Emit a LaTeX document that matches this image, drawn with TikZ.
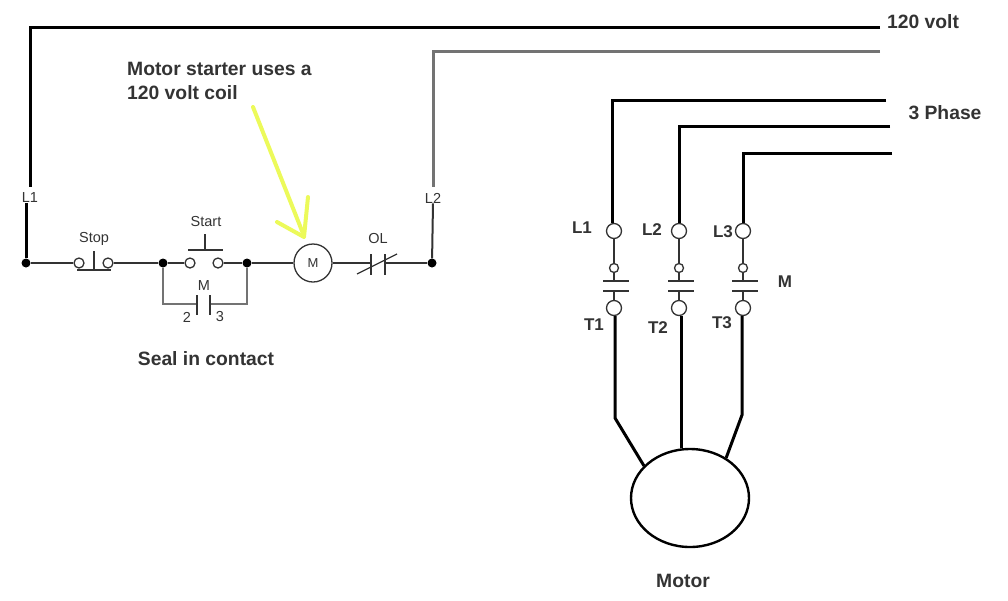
\documentclass[tikz,border=0pt]{standalone}
\usepackage{fontspec}
\setmainfont{Liberation Sans}
\usepackage{tikz}
\usetikzlibrary{shapes.geometric}
\definecolor{wiregray}{gray}{0.45}
\definecolor{marker}{RGB}{236,250,90}
\definecolor{ink}{gray}{0.2}
\tikzset{
  term/.style={circle,draw=ink,fill=white,line width=1.3pt,inner sep=0pt,minimum size=#1},
  term/.default=10pt,
  dot/.style={circle,fill=black,inner sep=0pt,minimum size=9pt},
  thin wire/.style={draw=ink,line width=1.3pt},
  heavy wire/.style={draw=black,line width=3pt},
  small label/.style={text=ink,font=\fontsize{14.5}{16}\selectfont,inner sep=0pt},
  tag label/.style={text=ink,font=\bfseries\fontsize{17}{20}\selectfont,inner sep=0pt},
  big label/.style={text=ink,font=\bfseries\fontsize{19.3}{24}\selectfont,inner sep=0pt},
}
\begin{document}
\begin{tikzpicture}[x=1pt,y=-1pt]
  \useasboundingbox
    (0,0)
    rectangle
    (1008,600);
  \coordinate (hotend) at (880,27);
  \coordinate (hotcorner) at (30,27);
  \coordinate (hotdrop) at (30,187);
  \coordinate (neutralend) at (880,51);
  \coordinate (neutralcorner) at (433,51);
  \coordinate (neutraldrop) at (433,187);
  \node[small label] (lineone) at (30,198) {L1};
  \node[small label] (linetwo) at (433,198) {L2};
  \node[dot] (railleft) at (26,263) {};
  \node[dot] (railright) at (432,263) {};
  \node[term] (stopa) at (79,263) {};
  \node[term] (stopb) at (108,263) {};
  \node[small label] (stoplabel) at (94,239) {Stop};
  \coordinate (stoptop) at (94,251);
  \coordinate (stopfoot) at (94,270);
  \coordinate (stopbarl) at (77,270);
  \coordinate (stopbarr) at (111,270);
  \node[dot] (sealleft) at (163,263) {};
  \node[dot] (sealright) at (247,263) {};
  \node[term] (starta) at (190,263) {};
  \node[term] (startb) at (218,263) {};
  \node[small label] (startlabel) at (206,222) {Start};
  \coordinate (starttop) at (205,234);
  \coordinate (startfoot) at (205,250);
  \coordinate (startbarl) at (188,250);
  \coordinate (startbarr) at (223,250);
  \coordinate (sealplatea) at (197,304);
  \coordinate (sealplateb) at (210,304);
  \node[small label] (sealm) at (204,286) {M};
  \node[small label] (sealtwo) at (187,317) {2};
  \node[small label] (sealthree) at (220,317) {3};
  \node[big label] (seallabel) at (206,359) {Seal in contact};
  \node[term=38pt,font=\fontsize{13}{15}\selectfont,text=ink] (coil) at (313,263) {M};
  \node[small label] (ollabel) at (378,239) {OL};
  \coordinate (ola) at (371,263);
  \coordinate (olb) at (385,263);
  \draw[heavy wire]
    (hotend)
    --
    (hotcorner)
    --
    (hotdrop);
  \draw[heavy wire]
    (lineone.south -| railleft)
    --
    (railleft);
  \draw[draw=wiregray,line width=3pt]
    (neutralend)
    --
    (neutralcorner)
    --
    (neutraldrop);
  \draw[line width=2pt,draw=ink]
    (linetwo.south)
    --
    (railright);
  \draw[thin wire]
    (railleft)
    --
    (stopa);
  \draw[thin wire]
    (stopb)
    --
    (sealleft)
    --
    (starta);
  \draw[thin wire]
    (startb)
    --
    (sealright)
    --
    (coil);
  \draw[thin wire]
    (stoptop)
    --
    (stopfoot);
  \draw[line width=1.8pt,draw=ink]
    (stopbarl)
    --
    (stopbarr);
  \draw[thin wire]
    (starttop)
    --
    (startfoot);
  \draw[thin wire]
    (startbarl)
    --
    (startbarr);
  \draw[thin wire,draw=wiregray]
    (sealleft)
    |-
    (sealplatea);
  \draw[thin wire,draw=wiregray]
    (sealright)
    |-
    (sealplateb);
  \draw[thin wire]
    (sealplatea) +(0,-9)
    --
    +(0,11);
  \draw[thin wire]
    (sealplateb) +(0,-9)
    --
    +(0,11);
  \draw[thin wire]
    (coil)
    --
    (ola);
  \draw[thin wire]
    (olb)
    --
    (railright);
  \draw[thin wire]
    (ola) +(0,-9)
    --
    +(0,12);
  \draw[thin wire]
    (olb) +(0,-9)
    --
    +(0,12);
  \draw[thin wire]
    (ola) +(-14,11)
    --
    +(26,-9);
  \draw[draw=marker,line width=4pt,line cap=round]
    (253,107)
    --
    (304,236);
  \draw[draw=marker,line width=4pt,line cap=round,line join=round]
    (277,222)
    --
    (304,237)
    --
    (308,197);
  \node[big label,anchor=north west,align=left] (note) at (127,62)
    {Motor starter uses a\\120 volt coil};
  \node[big label] (hotlabel) at (923,22) {120 volt};
  \node[big label] (phaselabel) at (945,113) {3 Phase};
  \coordinate (phaseoneend) at (886,100);
  \coordinate (phaseonecorner) at (612,100);
  \coordinate (phasetwoend) at (890,126);
  \coordinate (phasetwocorner) at (679,126);
  \coordinate (phasethreeend) at (892,153);
  \coordinate (phasethreecorner) at (743,153);
  \node[term=15pt] (lineina) at (614,231) {};
  \node[term=15pt] (lineinb) at (679,231) {};
  \node[term=15pt] (lineinc) at (743,231) {};
  \node[term=9pt] (linksa) at (614,268) {};
  \node[term=9pt] (linksb) at (679,268) {};
  \node[term=9pt] (linksc) at (743,268) {};
  \node[term=15pt] (loadouta) at (614,308) {};
  \node[term=15pt] (loadoutb) at (679,308) {};
  \node[term=15pt] (loadoutc) at (743,308) {};
  \node[draw=black,line width=2.4pt,ellipse,minimum width=118pt,minimum height=98pt,inner sep=0pt] (motor) at (690,498) {};
  \foreach \col in {a,b,c} {
    \draw[thin wire]
      (linein\col.south)
      --
      (links\col.north);
  }
  \foreach \col/\xpos in {a/614,b/679,c/743} {
    \draw[line width=1.6pt,draw=ink]
      (\xpos-11,281)
      --
      (\xpos+15,281);
    \draw[line width=2pt,draw=ink]
      (\xpos-11,291)
      --
      (\xpos+15,291);
    \draw[thin wire]
      (links\col.south)
      --
      (\xpos,281);
    \draw[thin wire]
      (\xpos,291)
      --
      (loadout\col.north);
  }
  \node[tag label] (tagla) at (582,228) {L1};
  \node[tag label] (taglb) at (652,230) {L2};
  \node[tag label] (taglc) at (723,232) {L3};
  \node[tag label] (tagm) at (785,282) {M};
  \node[tag label] (tagta) at (594,325) {T1};
  \node[tag label] (tagtb) at (658,328) {T2};
  \node[tag label] (tagtc) at (722,323) {T3};
  \node[big label] (motorlabel) at (683,581) {Motor};
  \coordinate (tapa) at (615,316);
  \coordinate (tapb) at (681,316);
  \coordinate (tapc) at (742,316);
  \coordinate (benda) at (615,418);
  \coordinate (bendc) at (742,415);
  \draw[heavy wire]
    (phaseoneend)
    --
    (phaseonecorner)
    --
    (lineina.north -| phaseonecorner);
  \draw[heavy wire]
    (phasetwoend)
    --
    (phasetwocorner)
    --
    (lineinb.north);
  \draw[heavy wire]
    (phasethreeend)
    --
    (phasethreecorner)
    --
    (lineinc.north);
  \draw[heavy wire]
    (tapa)
    --
    (benda)
    --
    (motor.145);
  \draw[heavy wire]
    (tapb)
    --
    (motor.north -| tapb);
  \draw[heavy wire]
    (tapc)
    --
    (bendc)
    --
    (motor.48);
\end{tikzpicture}
\end{document}
